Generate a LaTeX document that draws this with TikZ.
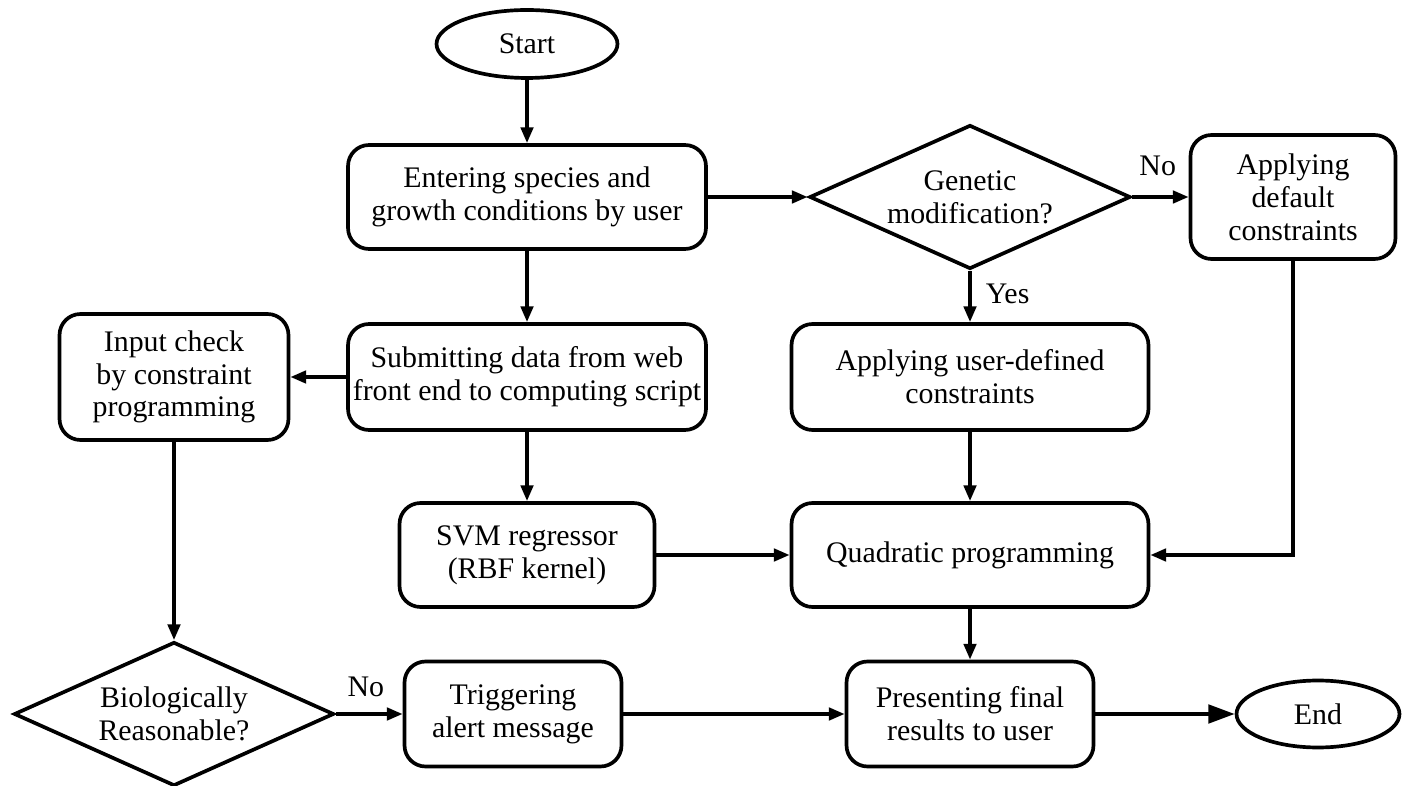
\documentclass[tikz,border=0pt]{standalone}
\usepackage{fontspec}
\setmainfont{Liberation Serif}
\usetikzlibrary{positioning, arrows.meta, shapes.geometric}

\begin{document}
\begin{tikzpicture}[
    x=0.02cm, y=-0.02cm,
    box/.style={rectangle, rounded corners=0.42cm, draw, line width=2.1pt,
                align=center, inner sep=2pt},
    decision/.style={diamond, aspect=2.23, draw, line width=2.1pt, align=center,
                     inner sep=0pt, minimum width=6.42cm, minimum height=2.88cm},
    terminal/.style={ellipse, draw, line width=2.1pt, inner sep=0pt},
    arrow/.style={line width=2.1pt, -{Triangle[length=9pt, width=7pt]}},
    bigarrow/.style={line width=2.1pt, -{Triangle[length=15pt, width=10.5pt]}},
    lbl/.style={inner sep=0pt},
    every node/.style={font=\fontsize{17}{18.7}\selectfont}
]
\useasboundingbox (0,0) rectangle (1406,786);

% obere Reihe
\node[terminal, minimum width=3.62cm, minimum height=1.36cm] (start) at (527,44) {Start};
\node[box, minimum width=7.16cm, minimum height=2.08cm] (enter) at (527,197)
    {Entering species and\\growth conditions by user};
\node[decision] (genetic) at (970,197) {Genetic\\modification?};
\node[box, minimum width=4.1cm, minimum height=2.48cm] (default) at (1293,197)
    {Applying\\default\\constraints};

% mittlere Reihe
\node[box, minimum width=4.58cm, minimum height=2.52cm] (check) at (174,377)
    {Input check\\by constraint\\programming};
\node[box, minimum width=7.16cm, minimum height=2.12cm] (submit) at (527,377)
    {Submitting data from web\\front end to computing script};
\node[box, minimum width=7.14cm, minimum height=2.12cm] (userdef) at (970,377)
    {Applying user-defined\\constraints};
\node[box, minimum width=5.1cm, minimum height=2.08cm] (svm) at (527,555)
    {SVM regressor\\(RBF kernel)};
\node[box, minimum width=7.14cm, minimum height=2.08cm] (quad) at (970,555)
    {Quadratic programming};

% untere Reihe
\node[decision, minimum width=6.4cm] (bio) at (174,714) {Biologically\\Reasonable?};
\node[box, minimum width=4.34cm, minimum height=2.1cm] (alert) at (513,714)
    {Triggering\\alert message};
\node[box, minimum width=4.94cm, minimum height=2.1cm] (present) at (970,714)
    {Presenting final\\results to user};
\node[terminal, minimum width=3.26cm, minimum height=1.34cm] (end) at (1318,714) {End};

\coordinate (corner) at (default.south |- quad.east);

\draw[arrow] (start) -- (enter);
\draw[arrow] (enter) -- (genetic);
\draw[arrow] (genetic) -- node[lbl, above=11pt, pos=0.45] {No} (default);
\draw[arrow] (genetic) -- node[lbl, right=8pt, pos=0.45] {Yes} (userdef);
\draw[arrow] (enter) -- (submit);
\draw[arrow] (submit) -- (check);
\draw[arrow] (submit) -- (svm);
\draw[arrow] (check) -- (bio);
\draw[arrow] (svm) -- (quad);
\draw[arrow] (userdef) -- (quad);
\draw[arrow] (default.south) -- (corner) -- (quad.east);
\draw[arrow] (quad) -- (present);
\draw[arrow] (bio) -- node[lbl, above=9pt, pos=0.45] {No} (alert);
\draw[arrow] (alert) -- (present);
\draw[bigarrow] (present) -- (end);
\end{tikzpicture}
\end{document}
